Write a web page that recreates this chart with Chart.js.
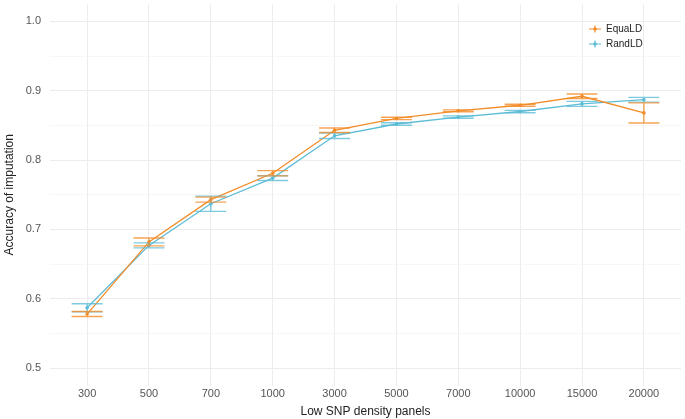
<!DOCTYPE html>
<html>
<head>
<meta charset="utf-8">
<script src="https://cdn.jsdelivr.net/npm/chart.js@4/dist/chart.umd.min.js"></script>
<style>
  html, body { margin: 0; padding: 0; background: #fff; }
  #wrap { width: 685px; height: 419px; position: relative; }
</style>
</head>
<body>
<div id="wrap"><canvas id="acc"></canvas></div>
<script>
const categories = ['300', '500', '700', '1000', '3000', '5000', '7000', '10000', '15000', '20000'];
const equaMean = [0.578, 0.682, 0.743, 0.781, 0.843, 0.860, 0.871, 0.879, 0.892, 0.868];
const equaErr  = [0.0036, 0.0057, 0.0036, 0.0038, 0.0033, 0.0017, 0.0014, 0.0014, 0.0033, 0.0145];
const randMean = [0.587, 0.677, 0.737, 0.774, 0.835, 0.852, 0.862, 0.870, 0.881, 0.887];
const randErr  = [0.0059, 0.0036, 0.011, 0.0035, 0.0040, 0.0017, 0.0017, 0.0017, 0.0036, 0.0034];
const yTicks = [0.5, 0.6, 0.7, 0.8, 0.9, 1.0];

const orange = 'rgb(242,140,40)';
const blue = 'rgb(92,188,214)';

function toPoints(arr) {
    return arr.map((v, i) => ({ x: i, y: v }));
}

// error bars drawn with the chart scales
const errorBars = {
    id: 'errorBars',
    afterDatasetsDraw(chart) {
        const ctx = chart.ctx;
        const xs = chart.scales.x, ys = chart.scales.y;
        chart.data.datasets.forEach(ds => {
            ctx.save();
            ctx.strokeStyle = ds.borderColor;
            ctx.globalAlpha = 0.8;
            ctx.lineWidth = 1.4;
            ds.data.forEach((p, i) => {
                const e = ds.errors[i];
                const yt = ys.getPixelForValue(p.y + e);
                const yb = ys.getPixelForValue(p.y - e);
                const xc = xs.getPixelForValue(p.x);
                const xl = xs.getPixelForValue(p.x - 0.25);
                const xr = xs.getPixelForValue(p.x + 0.25);
                ctx.beginPath();
                ctx.moveTo(xc, yt); ctx.lineTo(xc, yb);
                ctx.moveTo(xl, yt); ctx.lineTo(xr, yt);
                ctx.moveTo(xl, yb); ctx.lineTo(xr, yb);
                ctx.stroke();
            });
            ctx.restore();
        });
    }
};

// legend in the upper right corner of the panel
const cornerLegend = {
    id: 'cornerLegend',
    afterDraw(chart) {
        const ctx = chart.ctx;
        const items = chart.data.datasets.slice().sort((a, b) => a.legendOrder - b.legendOrder);
        ctx.save();
        items.forEach((ds, k) => {
            const y = 29 + k * 15;
            ctx.strokeStyle = ds.borderColor;
            ctx.fillStyle = ds.borderColor;
            ctx.lineWidth = 1.2;
            ctx.beginPath();
            ctx.moveTo(589, y); ctx.lineTo(601, y);
            ctx.moveTo(595, y - 3.5); ctx.lineTo(595, y + 3.5);
            ctx.stroke();
            ctx.beginPath();
            ctx.arc(595, y, 1.8, 0, Math.PI * 2);
            ctx.fill();
            ctx.fillStyle = '#222';
            ctx.font = '10px "Liberation Sans", Arial, sans-serif';
            ctx.textBaseline = 'middle';
            ctx.fillText(ds.label, 606, y + 0.5);
        });
        ctx.restore();
    }
};

const ctx = document.getElementById('acc');
new Chart(ctx, {
    type: 'line',
    data: {
        datasets: [{
            label: 'RandLD',
            legendOrder: 1,
            data: toPoints(randMean),
            errors: randErr,
            borderColor: blue,
            backgroundColor: blue,
            borderWidth: 1.3,
            pointRadius: 1.8,
            pointBorderWidth: 0,
            fill: false,
            order: 2
        }, {
            label: 'EquaLD',
            legendOrder: 0,
            data: toPoints(equaMean),
            errors: equaErr,
            borderColor: orange,
            backgroundColor: orange,
            borderWidth: 1.3,
            pointRadius: 1.8,
            pointBorderWidth: 0,
            fill: false,
            order: 1
        }]
    },
    options: {
        responsive: true,
        maintainAspectRatio: false,
        animation: false,
        layout: { padding: 0 },
        plugins: {
            legend: { display: false },
            tooltip: { enabled: false }
        },
        scales: {
            x: {
                type: 'linear',
                min: -0.6,
                max: 9.6,
                afterBuildTicks: scale => {
                    scale.ticks = categories.map((c, i) => ({ value: i }));
                },
                afterFit: scale => {
                    scale.height = 33.5;
                    scale.paddingLeft = 0;
                    scale.paddingRight = 0;
                },
                border: { display: false },
                grid: { color: '#ececec', lineWidth: 1, drawTicks: false },
                ticks: {
                    padding: 2,
                    color: '#555',
                    font: { family: '"Liberation Sans", Arial, sans-serif', size: 11 },
                    callback: v => categories[v]
                },
                title: {
                    display: true,
                    text: 'Low SNP density panels',
                    color: '#222',
                    padding: { top: 3, bottom: 0 },
                    font: { family: '"Liberation Sans", Arial, sans-serif', size: 12 }
                }
            },
            y: {
                min: 0.475,
                max: 1.025,
                afterBuildTicks: scale => {
                    const t = [];
                    yTicks.forEach((v, i) => {
                        t.push({ value: v });
                        if (i < yTicks.length - 1) t.push({ value: (v + yTicks[i + 1]) / 2, minor: true });
                    });
                    scale.ticks = t;
                },
                afterFit: scale => {
                    scale.width = 50;
                    scale.paddingTop = 0;
                    scale.paddingBottom = 0;
                },
                border: { display: false },
                grid: {
                    drawTicks: false,
                    color: c => (c.tick && c.tick.minor) ? '#f4f4f4' : '#ececec',
                    lineWidth: c => (c.tick && c.tick.minor) ? 0.7 : 1
                },
                ticks: {
                    padding: 9,
                    color: '#555',
                    font: { family: '"Liberation Sans", Arial, sans-serif', size: 11 },
                    callback: function (v, i, ticks) {
                        return ticks[i].minor ? '' : v.toFixed(1);
                    }
                },
                title: {
                    display: true,
                    text: 'Accuracy of imputation',
                    color: '#222',
                    padding: { top: 2, bottom: 2 },
                    font: { family: '"Liberation Sans", Arial, sans-serif', size: 12 }
                }
            }
        }
    },
    plugins: [errorBars, cornerLegend]
});
</script>
</body>
</html>
